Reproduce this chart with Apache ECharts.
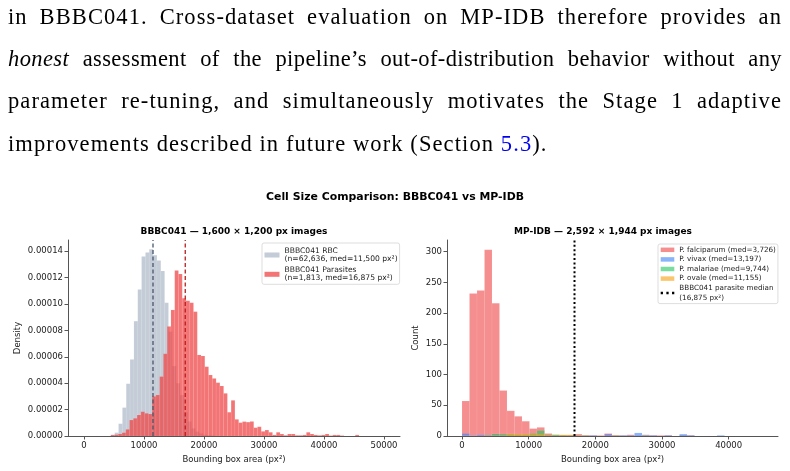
<!DOCTYPE html>
<html lang="en">
<head>
<meta charset="UTF-8">
<title>Cell Size Comparison</title>
<script src="https://cdn.jsdelivr.net/npm/echarts@6/dist/echarts.min.js"></script>
<style>
    body { margin: 0; width: 790px; height: 471px; background: #fff; overflow: hidden; }
    #chart { position: absolute; left: 0; top: 0; width: 790px; height: 471px; }
    #para {
        position: absolute; left: 8px; top: -4px; width: 774px; z-index: 2;
        font-family: "Liberation Serif", serif; font-size: 22.5px; letter-spacing: 1.1px; color: #000;
    }
    #para div { height: 42px; line-height: 42px; text-align: justify; text-align-last: justify; }
    #para div.tight { letter-spacing: 0.4px; }
    #para div.last { text-align-last: left; margin-top: 1px; }
    #para .ref { color: #0000ee; }
</style>
</head>
<body>
<div id="para">
    <div>in BBBC041. Cross-dataset evaluation on MP-IDB therefore provides an</div>
    <div class="tight"><i>honest</i> assessment of the pipeline’s out-of-distribution behavior without any</div>
    <div>parameter re-tuning, and simultaneously motivates the Stage 1 adaptive</div>
    <div class="last">improvements described in future work (Section <span class="ref">5.3</span>).</div>
</div>
<div id="chart"></div>
<script>
// ---- BBBC041 panel (density histograms) ----
const rbcBinStart = 4480, rbcBinWidth = 640;
const rbcDensity = [0.000001, 0.0000025, 0.0000093, 0.0000215, 0.0000396, 0.000058, 0.000087, 0.000111,
    0.000136, 0.000139, 0.0001415, 0.000137, 0.000133, 0.000125, 0.000101, 0.000079, 0.000053, 0.00004,
    0.000031, 0.000018, 0.000011, 0.0000058, 0.0000033, 0.000002, 0.000001, 0.0000006, 0.0000004];
const parBinStart = 4460, parBinWidth = 627;
const parDensity = [0.0000007, 0.000001, 0.0000015, 0.0000025, 0.000005, 0.0000121, 0.0000134, 0.0000159,
    0.0000184, 0.0000172, 0.0000167, 0.00003, 0.0000311, 0.000045, 0.0000623, 0.000083, 0.0000955, 0.0001253,
    0.0001227, 0.0001043, 0.0001025, 0.000101, 0.0000942, 0.0000614, 0.0000606, 0.0000525, 0.0000462, 0.0000436,
    0.0000404, 0.0000379, 0.0000323, 0.000018, 0.000027, 0.0000126, 0.0000101, 0.0000109, 0.0000105, 0.000011,
    0.0000063, 0.000007, 0.0000035, 0.0000045, 0.0000028, 0.0000008, 0.0000028, 0.0000015, 0.0000005, 0.0000015,
    0.0000015, 0.0000005, 0.0000005, 0.0000008, 0.0000028, 0.0000015, 0.0000008, 0.0000005, 0.0000008, 0.0000015,
    0.0000003, 0.0000008, 0.0000008, 0.0000003, 0, 0, 0, 0.0000008];
const rbcMedian = 11500, parMedian = 16875;
const leftXTicks = [0, 10000, 20000, 30000, 40000, 50000];
const leftYTicks = [0, 0.00002, 0.00004, 0.00006, 0.00008, 0.0001, 0.00012, 0.00014];

// ---- MP-IDB panel (counts, bins of 1125 px^2 from 0) ----
const mpBinWidth = 1125;
const falciparumCount = [57, 232, 237, 303, 216, 74, 41, 32, 24, 12, 14, 4, 2, 1, 1, 3, 1, 1, 1, 4, 1, 1, 2, 1, 1, 1, 1, 1, 0, 1, 1];
const vivaxCount = [4, 1, 2, 1, 3, 2, 1, 1, 1, 1, 1, 2, 1, 1, 1, 1, 1, 1, 0, 3, 1, 1, 1, 5, 2, 1, 0, 1, 0, 3, 1, 0, 0, 0, 1];
const malariaeCount = [0, 0, 0, 1, 3, 3, 3, 2, 2, 4, 9, 1, 2, 1];
const ovaleCount = [0, 0, 0, 0, 1, 1, 3, 3, 3, 3, 3, 2, 1, 2, 2, 1, 1, 0, 0, 0, 1, 0, 0, 0, 1];
const rightXTicks = [0, 10000, 20000, 30000, 40000];
const rightYTicks = [0, 50, 100, 150, 200, 250, 300];

const leftYMax = 0.0001485, rightYMax = 319;
const font = 'DejaVu Sans';

function toBins(start, width, values) {
    return values.map((v, i) => [start + i * width, start + (i + 1) * width, v]);
}

function renderBar(params, api) {
    const p0 = api.coord([api.value(0), api.value(2)]);
    const p1 = api.coord([api.value(1), 0]);
    return {
        type: 'rect',
        shape: { x: p0[0], y: p0[1], width: p1[0] - p0[0], height: p1[1] - p0[1] },
        style: { fill: api.visual('color'), stroke: 'rgba(255,255,255,0.2)', lineWidth: 0.3 }
    };
}

function histSeries(name, color, bins, axis) {
    return {
        name: name,
        type: 'custom',
        xAxisIndex: axis, yAxisIndex: axis,
        color: color,
        renderItem: renderBar,
        encode: { x: [0, 1], y: 2 },
        data: bins,
        clip: true,
        silent: true
    };
}

function vLine(name, x, top, axis, color, dash, width) {
    return {
        name: name,
        type: 'line',
        xAxisIndex: axis, yAxisIndex: axis,
        data: [[x, 0], [x, top]],
        color: color,
        showSymbol: false, symbol: 'none',
        lineStyle: { color: color, type: dash, width: width },
        z: 5, silent: true
    };
}

function axisStyle(ticks, fmt) {
    return {
        axisLine: { show: true, onZero: false, lineStyle: { color: '#555', width: 1 } },
        axisTick: { show: true, customValues: ticks, length: 3.5, lineStyle: { color: '#555' } },
        axisLabel: { customValues: ticks, fontSize: 8.5, color: '#222', fontFamily: font, margin: 5, formatter: fmt },
        splitLine: { show: false },
        nameTextStyle: { fontSize: 8.5, color: '#222', fontFamily: font }
    };
}

const chart = echarts.init(document.getElementById('chart'));

const option = {
    animation: false,
    graphic: [
        { type: 'text', x: 395, y: 197, style: { text: 'Cell Size Comparison: BBBC041 vs MP-IDB', align: 'center', verticalAlign: 'middle', font: 'bold 10.9px "DejaVu Sans"', fill: '#000' } },
        { type: 'text', x: 234, y: 232, style: { text: 'BBBC041 — 1,600 × 1,200 px images', align: 'center', verticalAlign: 'middle', font: 'bold 9px "DejaVu Sans"', fill: '#000' } },
        { type: 'text', x: 603, y: 232, style: { text: 'MP-IDB — 2,592 × 1,944 px images', align: 'center', verticalAlign: 'middle', font: 'bold 9px "DejaVu Sans"', fill: '#000' } }
    ],
    grid: [
        { left: 68, top: 240, width: 332, height: 196 },
        { left: 447, top: 240, width: 331, height: 196 }
    ],
    legend: [
        {
            data: ['BBBC041 RBC', 'BBBC041 Parasites'],
            orient: 'vertical', left: 262, top: 243,
            padding: [4, 2, 2, 2.5], itemGap: 3.3,
            itemWidth: 15, itemHeight: 5, icon: 'rect',
            borderColor: '#d4d4d4', borderWidth: 0.8, borderRadius: 2,
            backgroundColor: 'rgba(255,255,255,0.85)',
            selectedMode: false,
            textStyle: { fontSize: 7.6, lineHeight: 8, color: '#222', fontFamily: font },
            formatter: function (name) {
                return name === 'BBBC041 RBC'
                    ? name + '\n(n=62,636, med=11,500 px²)'
                    : name + '\n(n=1,813, med=16,875 px²)';
            }
        },
        {
            data: [
                { name: 'P. falciparum (med=3,726)', icon: 'rect' },
                { name: 'P. vivax (med=13,197)', icon: 'rect' },
                { name: 'P. malariae (med=9,744)', icon: 'rect' },
                { name: 'P. ovale (med=11,155)', icon: 'rect' },
                { name: 'BBBC041 parasite median', icon: 'path://M0 0h2v2h-2z M5 0h2v2h-2z M10 0h2v2h-2z' }
            ],
            orient: 'vertical', left: 658, top: 244,
            padding: [1, 2, 1, 2.7], itemGap: 0,
            itemWidth: 13.6, itemHeight: 4.5,
            borderColor: '#d4d4d4', borderWidth: 0.8, borderRadius: 2,
            backgroundColor: 'rgba(255,255,255,0.85)',
            selectedMode: false,
            textStyle: { fontSize: 7.2, lineHeight: 9.6, color: '#222', fontFamily: font },
            formatter: function (name) {
                return name === 'BBBC041 parasite median' ? name + '\n(16,875 px²)' : name;
            }
        }
    ],
    xAxis: [
        Object.assign({
            type: 'value', gridIndex: 0, min: -2667, max: 52667,
            name: 'Bounding box area (px²)', nameLocation: 'middle', nameGap: 19
        }, axisStyle(leftXTicks, v => String(v))),
        Object.assign({
            type: 'value', gridIndex: 1, min: -2250, max: 47400,
            name: 'Bounding box area (px²)', nameLocation: 'middle', nameGap: 19
        }, axisStyle(rightXTicks, v => String(v)))
    ],
    yAxis: [
        Object.assign({
            type: 'value', gridIndex: 0, min: 0, max: leftYMax,
            name: 'Density', nameLocation: 'middle', nameGap: 46
        }, axisStyle(leftYTicks, v => v.toFixed(5))),
        Object.assign({
            type: 'value', gridIndex: 1, min: 0, max: rightYMax,
            name: 'Count', nameLocation: 'middle', nameGap: 27
        }, axisStyle(rightYTicks, v => String(v)))
    ],
    series: [
        histSeries('BBBC041 RBC', 'rgba(148,163,184,0.55)', toBins(rbcBinStart, rbcBinWidth, rbcDensity), 0),
        histSeries('BBBC041 Parasites', 'rgba(239,68,68,0.74)', toBins(parBinStart, parBinWidth, parDensity), 0),
        vLine('rbc median', rbcMedian, leftYMax, 0, '#475569', [4, 2.5], 1.3),
        vLine('parasite median', parMedian, leftYMax, 0, '#b91c1c', [4, 2.5], 1.3),

        histSeries('P. falciparum (med=3,726)', 'rgba(239,68,68,0.6)', toBins(0, mpBinWidth, falciparumCount), 1),
        histSeries('P. vivax (med=13,197)', 'rgba(59,130,246,0.6)', toBins(0, mpBinWidth, vivaxCount), 1),
        histSeries('P. malariae (med=9,744)', 'rgba(34,197,94,0.6)', toBins(0, mpBinWidth, malariaeCount), 1),
        histSeries('P. ovale (med=11,155)', 'rgba(245,158,11,0.6)', toBins(0, mpBinWidth, ovaleCount), 1),
        vLine('BBBC041 parasite median', parMedian, rightYMax, 1, '#000', [2, 2.4], 2)
    ]
};

chart.setOption(option);
</script>
</body>
</html>
